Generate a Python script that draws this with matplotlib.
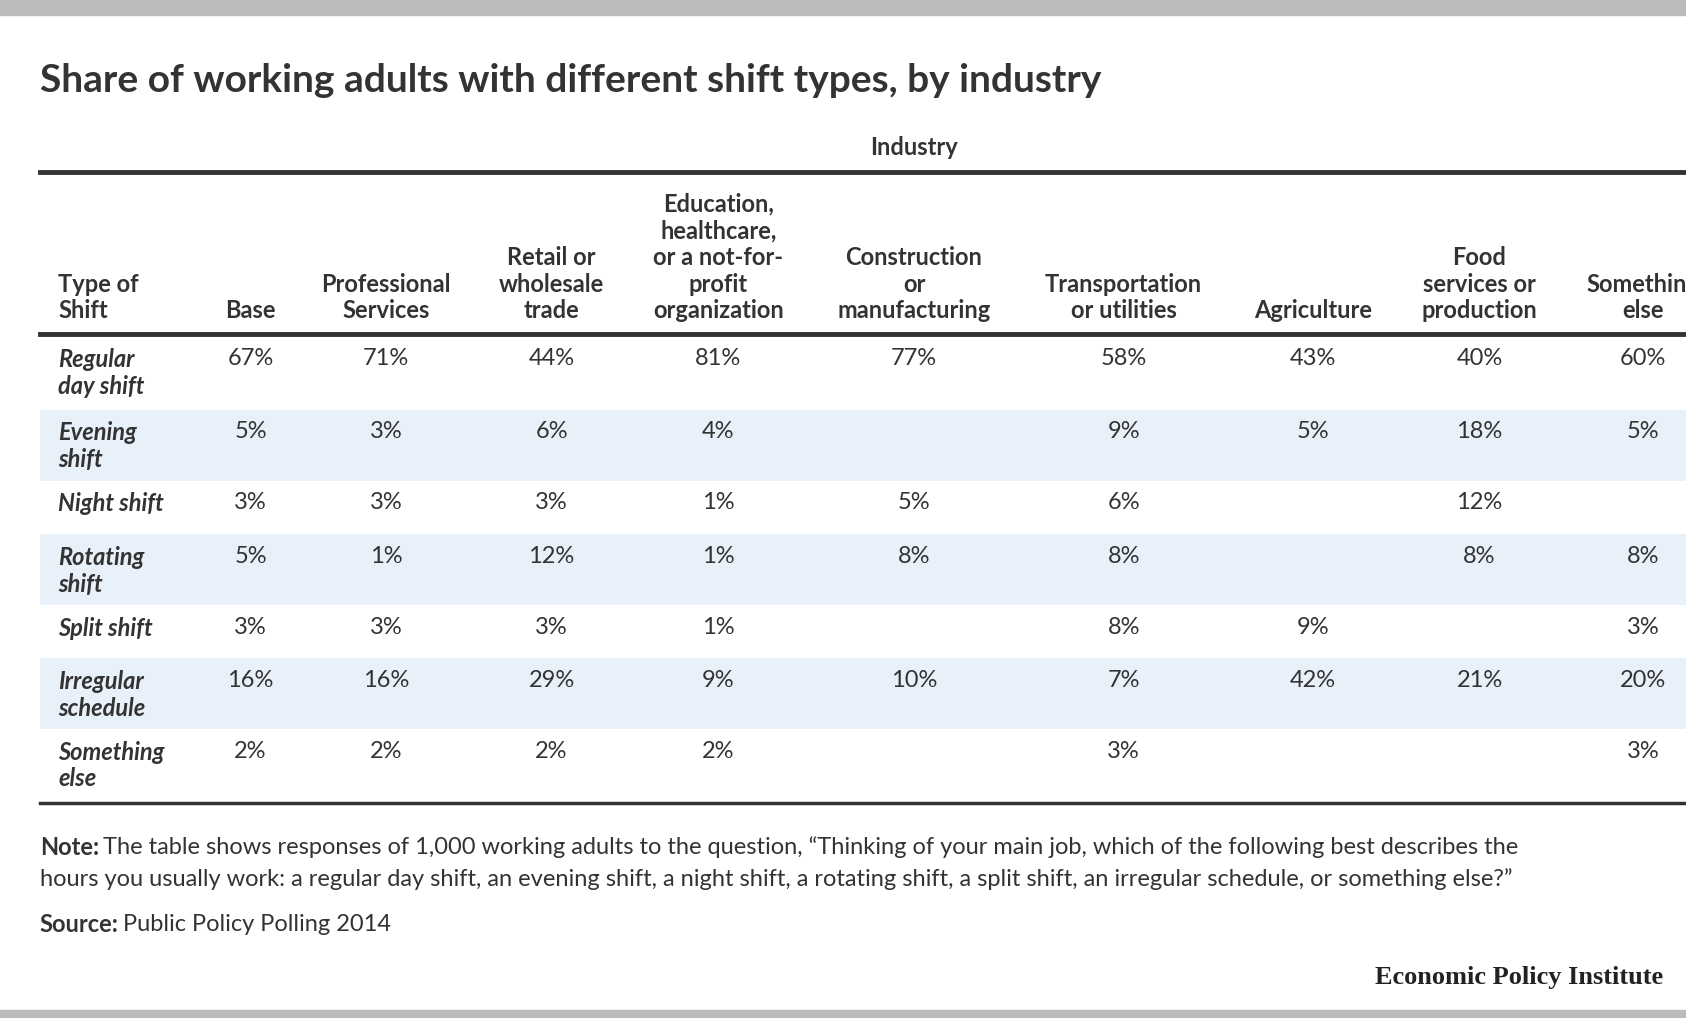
import matplotlib.pyplot as plt
import numpy as np

plt.rcParams['font.family'] = ['Lato', 'DejaVu Sans']

# Table data
columns = ['Base', 'Professional\nServices', 'Retail or\nwholesale\ntrade',
           'Education,\nhealthcare,\nor a not-for-\nprofit\norganization',
           'Construction\nor\nmanufacturing', 'Transportation\nor utilities',
           'Agriculture', 'Food\nservices or\nproduction', 'Something\nelse']
rows = ['Regular\nday shift', 'Evening\nshift', 'Night shift', 'Rotating\nshift',
        'Split shift', 'Irregular\nschedule', 'Something\nelse']
values = [
    [67, 71, 44, 81, 77, 58, 43, 40, 60],
    [5, 3, 6, 4, None, 9, 5, 18, 5],
    [3, 3, 3, 1, 5, 6, None, 12, None],
    [5, 1, 12, 1, 8, 8, None, 8, 8],
    [3, 3, 3, 1, None, 8, 9, None, 3],
    [16, 16, 29, 9, 10, 7, 42, 21, 20],
    [2, 2, 2, 2, None, 3, None, None, 3],
]

W, H = 1568, 947  # layout units (reference pixels)
col_x = [233, 359, 513, 668, 850, 1045, 1221, 1376, 1528]
row_top = [313, 381, 447, 497, 563, 612, 678, 747]
dark = '#333333'
band = '#e8f0f9'
fs = 17

fig = plt.figure(figsize=(16.86, 10.18), dpi=100)
ax = fig.add_axes([0, 0, 1, 1])
ax.set_xlim(0, W)
ax.set_ylim(H, 0)
ax.axis('off')

# gray frame bars
ax.axhspan(0, 14, color='#bbbbbb')
ax.axhspan(940, H, color='#bbbbbb')

ax.text(37, 75, 'Share of working adults with different shift types, by industry',
        fontsize=28, fontweight='bold', color=dark, va='center')
ax.text(850, 137, 'Industry', fontsize=fs, fontweight='bold', color=dark,
        ha='center', va='center')

ax.plot([37, W], [160, 160], color=dark, lw=3.5)
ax.plot([37, W], [311, 311], color=dark, lw=3.5)
ax.plot([37, W], [747, 747], color=dark, lw=2.5)

# header
ax.text(54, 300, 'Type of\nShift', fontsize=fs, fontweight='bold', color=dark,
        va='bottom', linespacing=1.2)
for x, c in zip(col_x, columns):
    ax.text(x, 300, c, fontsize=fs, fontweight='bold', color=dark,
            ha='center', va='bottom', linespacing=1.2)

# body
for i, (label, vals) in enumerate(zip(rows, values)):
    top, bottom = row_top[i], row_top[i + 1]
    if i % 2 == 1:
        ax.fill_between([37, W], top, bottom, color=band, lw=0)
    y = top + 11
    ax.text(54, y, label, fontsize=fs, fontweight='bold', style='italic',
            color=dark, va='top', linespacing=1.2)
    for x, v in zip(col_x, vals):
        if v is not None:
            ax.text(x, y, f'{v}%', fontsize=fs, color=dark, ha='center', va='top')

# notes
note = ax.text(37, 788, 'Note:', fontsize=fs, fontweight='bold', color=dark, va='center')
ax.annotate('The table shows responses of 1,000 working adults to the question, '
            '\u201cThinking of your main job, which of the following best describes the',
            xy=(1, 0.5), xycoords=note, xytext=(3, 0), textcoords='offset points',
            fontsize=fs, color=dark, va='center')
ax.text(37, 818, 'hours you usually work: a regular day shift, an evening shift, a night shift, '
        'a rotating shift, a split shift, an irregular schedule, or something else?\u201d',
        fontsize=fs, color=dark, va='center')
src = ax.text(37, 860, 'Source:', fontsize=fs, fontweight='bold', color=dark, va='center')
ax.annotate('Public Policy Polling 2014', xy=(1, 0.5), xycoords=src, xytext=(3, 0),
            textcoords='offset points', fontsize=fs, color=dark, va='center')
ax.text(1547, 909, 'Economic Policy Institute', fontsize=19, fontweight='bold',
        family='Liberation Serif', color='#222222', ha='right', va='center')

fig.savefig('out.png')
